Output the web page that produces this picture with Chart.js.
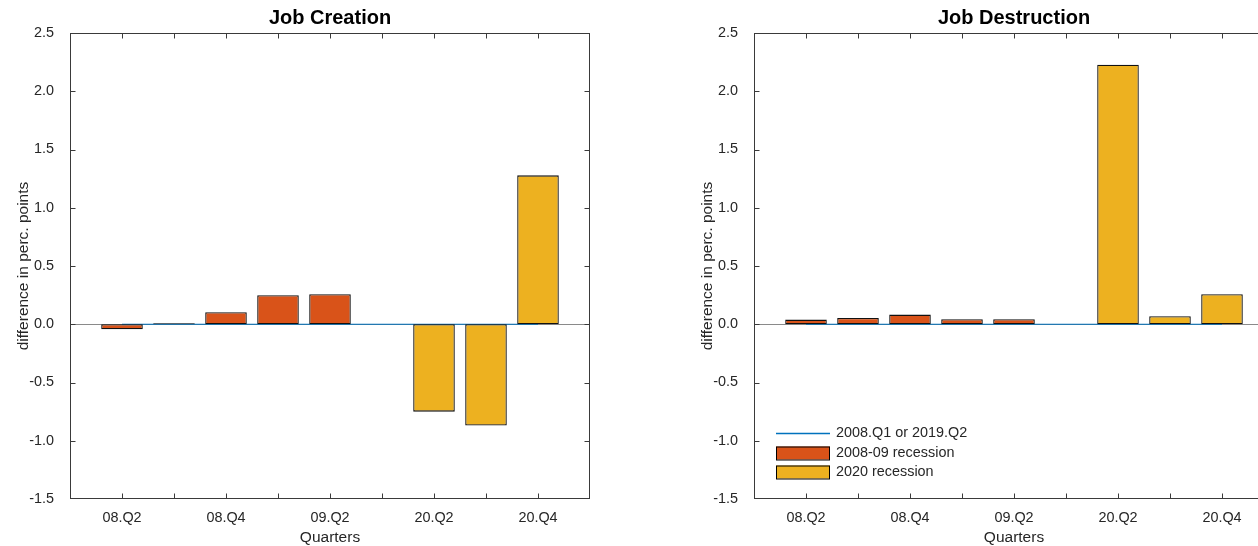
<!DOCTYPE html>
<html>
<head>
<meta charset="utf-8">
<title>Job Creation and Destruction</title>
<script src="https://cdn.jsdelivr.net/npm/chart.js@4"></script>
<style>
  html, body { margin: 0; padding: 0; background: #fff; overflow: hidden; }
  body { width: 1258px; height: 546px; position: relative; }
  canvas { position: absolute; top: 0; }
  #creation { left: 0; }
  #destruction { left: 640px; }
</style>
</head>
<body>
<canvas id="creation" width="640" height="546"></canvas>
<canvas id="destruction" width="660" height="546"></canvas>
<script>
const quarters2008 = ['08.Q2', '08.Q3', '08.Q4', '09.Q1', '09.Q2'];
const quarters2020 = ['20.Q2', '20.Q3', '20.Q4'];
// one empty slot between the two recessions
const quarters = [...quarters2008, '', ...quarters2020];
const labelledQuarters = ['08.Q2', '08.Q4', '09.Q2', '20.Q2', '20.Q4'];

const creation2008 = [-0.043, 0.008, 0.103, 0.249, 0.257];
const creation2020 = [-0.75, -0.87, 1.278];
const destruction2008 = [0.04, 0.054, 0.083, 0.043, 0.043];
const destruction2020 = [2.227, 0.069, 0.257];
// level of 2008.Q1 / 2019.Q2, the reference the differences are taken from
const reference = [0, 0, 0, 0, 0, 0, 0, 0, 0];

const yTicks = [-1.5, -1.0, -0.5, 0.0, 0.5, 1.0, 1.5, 2.0, 2.5];

const FONT = '"Liberation Sans", Arial, Helvetica, sans-serif';
const AXIS_COLOR = '#262626';

function toPoints(names, values) {
    return names.map((q, i) => ({ x: quarters.indexOf(q) + 1, y: values[i] }));
}

// MATLAB-like box, inward ticks, titles and legend
const matlabAxes = {
    id: 'matlabAxes',
    beforeDatasetsDraw(chart) {
        const { ctx, chartArea: a, scales: { y } } = chart;
        const y0 = Math.round(y.getPixelForValue(0)) + 0.5;
        ctx.save();
        ctx.strokeStyle = '#8a8a8a';
        ctx.lineWidth = 1;
        ctx.beginPath();
        ctx.moveTo(a.left, y0);
        ctx.lineTo(a.right, y0);
        ctx.stroke();
        ctx.restore();
    },
    afterDraw(chart, args, opts) {
        const { ctx, chartArea: a, scales: { x, y } } = chart;
        const L = Math.round(a.left) + 0.5, R = Math.round(a.right) - 0.5;
        const T = Math.round(a.top) + 0.5, B = Math.round(a.bottom) - 0.5;
        ctx.save();
        ctx.strokeStyle = '#3a3a3a';
        ctx.lineWidth = 1;
        ctx.strokeRect(L, T, R - L, B - T);

        ctx.beginPath();
        for (let i = 1; i <= quarters.length; i++) {
            const px = Math.round(x.getPixelForValue(i)) + 0.5;
            ctx.moveTo(px, B); ctx.lineTo(px, B - 5);
            ctx.moveTo(px, T); ctx.lineTo(px, T + 5);
        }
        yTicks.slice(1, -1).forEach(v => {
            const py = Math.round(y.getPixelForValue(v)) + 0.5;
            ctx.moveTo(L, py); ctx.lineTo(L + 5, py);
            ctx.moveTo(R, py); ctx.lineTo(R - 5, py);
        });
        ctx.stroke();

        const cx = (a.left + a.right) / 2;
        ctx.textAlign = 'center';
        ctx.textBaseline = 'middle';
        ctx.fillStyle = '#000';
        ctx.font = 'bold 20px ' + FONT;
        ctx.fillText(opts.title, cx, 18.5);

        ctx.fillStyle = AXIS_COLOR;
        ctx.font = '15.5px ' + FONT;
        ctx.fillText('Quarters', cx, 537.5);
        ctx.save();
        ctx.translate(a.left - 46, (a.top + a.bottom) / 2);
        ctx.rotate(-Math.PI / 2);
        ctx.fillText('difference in perc. points', 0, 0);
        ctx.restore();

        if (opts.legend) {
            const ds = chart.data.datasets;
            const lx = a.left + 22, sw = 54;
            const rows = [a.bottom - 66, a.bottom - 46.5, a.bottom - 27];
            ctx.textAlign = 'left';
            ctx.font = '14.4px ' + FONT;
            ds.forEach((d, i) => {
                const ry = Math.round(rows[i]);
                if (d.type === 'line') {
                    ctx.strokeStyle = '#0072BD';
                    ctx.lineWidth = 1.5;
                    ctx.beginPath();
                    ctx.moveTo(lx, ry + 0.5);
                    ctx.lineTo(lx + sw, ry + 0.5);
                    ctx.stroke();
                    ctx.lineWidth = 1;
                } else {
                    ctx.fillStyle = d.backgroundColor;
                    ctx.fillRect(lx, ry - 6.5, sw, 13);
                    ctx.strokeStyle = '#000';
                    ctx.strokeRect(lx + 0.5, ry - 6, sw - 1, 13);
                }
                ctx.fillStyle = AXIS_COLOR;
                ctx.fillText(d.label, lx + sw + 6, ry);
            });
        }
        ctx.restore();
    }
};

function barSeries(label, points, color) {
    return {
        type: 'bar',
        label: label,
        data: points,
        backgroundColor: color,
        borderColor: '#111',
        borderWidth: 1.3,
        borderSkipped: false,
        grouped: false,
        barPercentage: 0.8,
        categoryPercentage: 1,
        order: 0
    };
}

function makeChart(id, title, values2008, values2020, yAxisWidth, rightPad, showLegend) {
    return new Chart(document.getElementById(id), {
        data: {
            datasets: [{
                type: 'line',
                label: '2008.Q1 or 2019.Q2',
                data: reference.map((v, i) => ({ x: i + 1, y: v })),
                borderColor: '#0072BD',
                borderWidth: 1.2,
                pointRadius: 0,
                order: 1
            },
            barSeries('2008-09 recession', toPoints(quarters2008, values2008), '#D95319'),
            barSeries('2020 recession', toPoints(quarters2020, values2020), '#EDB120')]
        },
        options: {
            responsive: false,
            animation: false,
            devicePixelRatio: 1,
            layout: { padding: { top: 33, right: rightPad, bottom: 0, left: 0 } },
            scales: {
                x: {
                    type: 'linear',
                    offset: false,
                    min: 0,
                    max: quarters.length + 1,
                    grid: { display: false },
                    border: { display: false },
                    afterFit: s => { s.height = 47; },
                    ticks: {
                        stepSize: 1,
                        autoSkip: false,
                        maxRotation: 0,
                        padding: 2,
                        color: AXIS_COLOR,
                        font: { family: FONT, size: 14.4 },
                        callback: v => {
                            const q = quarters[v - 1];
                            return labelledQuarters.includes(q) ? q : '';
                        }
                    }
                },
                y: {
                    min: yTicks[0],
                    max: yTicks[yTicks.length - 1],
                    grid: { display: false },
                    border: { display: false },
                    afterFit: s => { s.width = yAxisWidth; },
                    ticks: {
                        stepSize: 0.5,
                        padding: 8,
                        color: AXIS_COLOR,
                        font: { family: FONT, size: 14.4 },
                        callback: v => v.toFixed(1)
                    }
                }
            },
            plugins: {
                legend: { display: false },
                tooltip: { enabled: false },
                matlabAxes: { title: title, legend: showLegend }
            }
        },
        plugins: [matlabAxes]
    });
}

makeChart('creation', 'Job Creation', creation2008, creation2020, 70, 50, false);
makeChart('destruction', 'Job Destruction', destruction2008, destruction2020, 114, 26, true);
</script>
</body>
</html>
